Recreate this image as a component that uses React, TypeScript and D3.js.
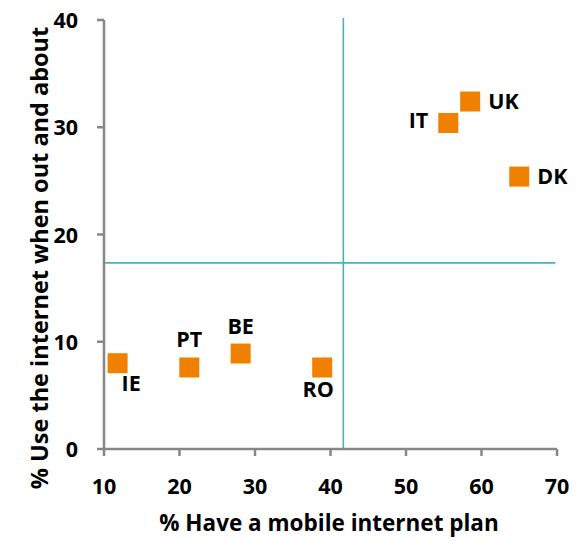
import React from "react";
import * as d3 from "d3";

const countries = ["IE", "PT", "BE", "RO", "IT", "UK", "DK"];
const mobilePlan = [11.8, 21.3, 28.1, 38.9, 55.6, 58.5, 65.0];
const useOutAbout = [8.0, 7.6, 8.9, 7.6, 30.4, 32.4, 25.4];
const labelSide = ["below-right", "above", "above", "below", "left", "right", "right"];
const xTicks = [10, 20, 30, 40, 50, 60, 70];
const yTicks = [0, 10, 20, 30, 40];
const meanX = 41.7;
const meanY = 17.35;
const xTitle = "% Have a mobile internet plan";
const yTitle = "% Use the internet when out and about";

const W = 580, H = 541;
const FONT = "Open Sans, Liberation Sans, sans-serif";

export default function App() {
  const x = d3.scaleLinear().domain([10, 70]).range([104, 557]);
  const y = d3.scaleLinear().domain([0, 40]).range([449, 20]);
  const axisColor = "#878787";
  const refColor = "#45b5b8";
  const orange = "#f08000";
  const sq = 20;
  const fs = 21.5;

  const labelPos = (side: string, cx: number, cy: number) => {
    switch (side) {
      case "above": return { x: cx, y: cy - 20, anchor: "middle" };
      case "below": return { x: cx - 4, y: cy + 30, anchor: "middle" };
      case "below-right": return { x: cx + 4, y: cy + 28, anchor: "start" };
      case "left": return { x: cx - 20, y: cy + 5, anchor: "end" };
      default: return { x: cx + 18, y: cy + 7, anchor: "start" };
    }
  };

  return (
    <svg width={W} height={H} style={{ position: "absolute", left: 0, top: 0 }} fontFamily={FONT}>
      <rect width={W} height={H} fill="#fff" />
      {/* reference lines */}
      <line x1={x(meanX)} x2={x(meanX)} y1={y(40) - 2} y2={y(0)} stroke={refColor} strokeWidth={1.6} />
      <line x1={x(10)} x2={x(69.8)} y1={y(meanY)} y2={y(meanY)} stroke={refColor} strokeWidth={1.6} />
      {/* axes */}
      <line x1={x(10)} x2={x(10)} y1={y(40)} y2={y(0)} stroke={axisColor} strokeWidth={2.5} />
      <line x1={x(10)} x2={x(70)} y1={y(0)} y2={y(0)} stroke={axisColor} strokeWidth={2.5} />
      {yTicks.map((t) => (
        <g key={"y" + t}>
          <line x1={x(10) - 7} x2={x(10)} y1={y(t)} y2={y(t)} stroke={axisColor} strokeWidth={2.5} />
          <text x={x(10) - 26} y={y(t) + 8} textAnchor="end" fontSize={fs} fontWeight="bold" fill="#000">{t}</text>
        </g>
      ))}
      {xTicks.map((t) => (
        <g key={"x" + t}>
          <line x1={x(t)} x2={x(t)} y1={y(0)} y2={y(0) + 7} stroke={axisColor} strokeWidth={2.5} />
          <text x={x(t)} y={y(0) + 45} textAnchor="middle" fontSize={fs} fontWeight="bold" fill="#000">{t}</text>
        </g>
      ))}
      {/* points */}
      {countries.map((c, i) => {
        const cx = x(mobilePlan[i]);
        const cy = y(useOutAbout[i]);
        const lp = labelPos(labelSide[i], cx, cy);
        return (
          <g key={c}>
            <rect x={cx - sq / 2} y={cy - sq / 2} width={sq} height={sq} fill={orange} />
            <text x={lp.x} y={lp.y} textAnchor={lp.anchor as any} fontSize={fs} fontWeight="bold" fill="#000">{c}</text>
          </g>
        );
      })}
      <text x={329} y={531} textAnchor="middle" fontSize={22.5} fontWeight="bold" fill="#000">{xTitle}</text>
      <text transform={`translate(48,258) rotate(-90)`} textAnchor="middle" fontSize={23.5} fontWeight="bold" fill="#000">{yTitle}</text>
    </svg>
  );
}
